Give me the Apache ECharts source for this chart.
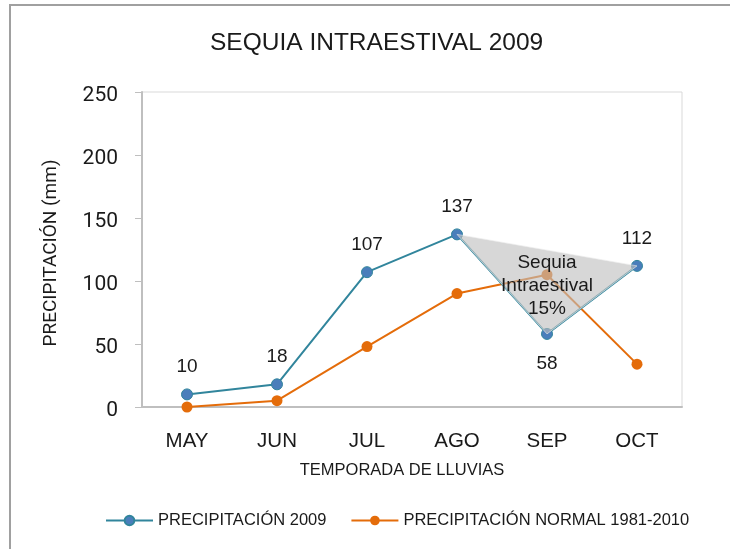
<!DOCTYPE html>
<html>
<head>
<meta charset="utf-8">
<title>SEQUIA INTRAESTIVAL 2009</title>
<script src="https://cdn.jsdelivr.net/npm/echarts@6/dist/echarts.min.js"></script>
<style>
  html, body { margin: 0; padding: 0; background: #fff; }
  #chart { width: 730px; height: 549px; }
</style>
</head>
<body>
<div id="chart"></div>
<script>
var months = ['MAY', 'JUN', 'JUL', 'AGO', 'SEP', 'OCT'];
var rain2009 = [10, 18, 107, 137, 58, 112];
var rainNormal = [0, 5, 48, 90, 105, 34];
var yTicks = [0, 50, 100, 150, 200, 250];
// months that make the drought triangle (index into months)
var droughtIdx = [3, 4, 5];
var droughtText = ['Sequia', 'Intraestival', '15%'];

(function() {
  var font = '"Liberation Sans", Arial, sans-serif';
  var ink = '#1a1a1a';
  var teal = '#31859c';
  var blue = '#4a7ebb';
  var orange = '#e46c0a';
  var axisGray = '#bfbfbf';

  var chart = echarts.init(document.getElementById('chart'), null, { renderer: 'canvas' });

  chart.setOption({
    animation: false,
    backgroundColor: '#fff',
    textStyle: { fontFamily: font },
    graphic: [{
      type: 'rect',
      shape: { x: 10, y: 5, width: 800, height: 600 },
      style: { fill: 'none', stroke: '#a0a0a0', lineWidth: 2 },
      silent: true
    }],
    title: {
      text: 'SEQUIA INTRAESTIVAL 2009',
      left: 205,
      top: 26,
      textStyle: { fontFamily: font, fontSize: 24.5, fontWeight: 'normal', color: ink }
    },
    legend: {
      bottom: 15,
      left: 100,
      itemWidth: 47,
      itemHeight: 12,
      itemGap: 24,
      textStyle: { fontFamily: font, fontSize: 16.5, color: ink },
      data: ['PRECIPITACIÓN 2009', 'PRECIPITACIÓN NORMAL 1981-2010']
    },
    grid: {
      left: 142, right: 48, top: 92, bottom: 142,
      show: true, borderColor: '#d9d9d9', borderWidth: 1
    },
    xAxis: {
      type: 'category',
      data: months,
      boundaryGap: true,
      name: 'TEMPORADA DE LLUVIAS',
      nameLocation: 'middle',
      nameGap: 55,
      nameTextStyle: { fontFamily: font, fontSize: 16.5, color: ink, padding: [0, 20, 0, 0] },
      axisLine: { lineStyle: { color: axisGray, width: 2 } },
      axisTick: { inside: true, alignWithLabel: true, length: 5, lineStyle: { color: axisGray } },
      axisLabel: { fontFamily: font, fontSize: 20.5, color: ink, margin: 24 }
    },
    yAxis: {
      type: 'value',
      min: yTicks[0],
      max: yTicks[yTicks.length - 1],
      interval: yTicks[1] - yTicks[0],
      name: 'PRECIPITACIÓN (mm)',
      nameLocation: 'middle',
      nameGap: 81,
      nameTextStyle: { fontFamily: 'Roboto, sans-serif', fontSize: 19, color: ink, padding: [0, 7, 0, 0] },
      axisLine: { show: true, lineStyle: { color: axisGray, width: 2 } },
      axisTick: { show: true, length: 7, lineStyle: { color: axisGray } },
      splitLine: { show: false },
      axisLabel: {
        margin: 24,
        formatter: function(v) { return '{n|' + v + '}'; },
        rich: { n: { fontFamily: 'Roboto, sans-serif', fontSize: 21, color: ink, padding: [8, 0, 0, 0] } }
      }
    },
    series: [
      {
        name: 'PRECIPITACIÓN 2009',
        type: 'line',
        data: rain2009.map(function(v, i) {
          return {
            value: v,
            label: { position: i === 4 ? 'bottom' : 'top', distance: i === 4 ? 14 : 12 }
          };
        }),
        symbol: 'circle',
        symbolSize: 11,
        lineStyle: { color: teal, width: 2 },
        itemStyle: { color: blue, borderColor: teal, borderWidth: 1 },
        label: { show: true, fontFamily: font, fontSize: 19, color: ink },
        z: 3
      },
      {
        name: 'PRECIPITACIÓN NORMAL 1981-2010',
        type: 'line',
        data: rainNormal,
        symbol: 'circle',
        symbolSize: 11,
        lineStyle: { color: orange, width: 2 },
        itemStyle: { color: orange },
        z: 2
      },
      {
        type: 'custom',
        data: [0],
        z: 5,
        silent: true,
        renderItem: function(params, api) {
          var pts = droughtIdx.map(function(i) { return api.coord([i, rain2009[i]]); });
          var c = api.coord([4.18, 96.5]);
          return {
            type: 'group',
            children: [
              {
                type: 'polygon',
                shape: { points: pts },
                style: { fill: 'rgba(190,190,190,0.62)', stroke: 'rgba(235,235,235,0.6)', lineWidth: 1 }
              },
              {
                type: 'text',
                x: c[0], y: c[1],
                style: {
                  text: droughtText.join('\n'),
                  align: 'center', verticalAlign: 'middle',
                  fontFamily: font, fontSize: 19, lineHeight: 23, fill: ink
                }
              }
            ]
          };
        }
      }
    ]
  });

  window.addEventListener('resize', function() { chart.resize(); });
})();
</script>
</body>
</html>
